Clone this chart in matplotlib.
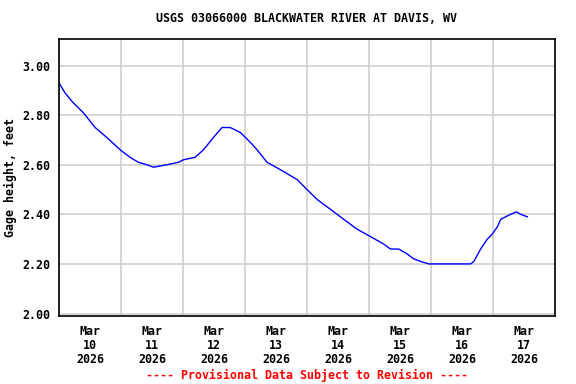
import matplotlib
matplotlib.use("Agg")
import matplotlib.pyplot as plt
import numpy as np
import pandas as pd

title = "USGS 03066000 BLACKWATER RIVER AT DAVIS, WV"
ylabel = "Gage height, feet"
footer = "---- Provisional Data Subject to Revision ----"

start = pd.Timestamp("2026-03-10 00:00")
hours = [0, 2.3, 5.5, 9.4, 14.0, 18.5, 23.7, 27.5, 30.7, 34.0, 36.6, 41.8, 46.3,
         48.2, 52.7, 55.9, 59.8, 63.1, 66.3, 70.2, 74.1, 76.7, 80.5, 85.7, 92.2,
         96.0, 99.9, 105.1, 110.2, 115.4, 120.6, 125.7, 128.3, 131.5, 134.8,
         137.4, 140.0, 143.2, 150.3, 153.5, 159.3, 160.6, 163.2, 165.8, 167.7,
         169.7, 171.0, 172.9, 174.8, 177.1, 178.7, 181.3]
gage = [2.93, 2.89, 2.85, 2.81, 2.75, 2.71, 2.66, 2.63, 2.61, 2.60, 2.59, 2.60,
        2.61, 2.62, 2.63, 2.66, 2.71, 2.75, 2.75, 2.73, 2.69, 2.66, 2.61, 2.58,
        2.54, 2.50, 2.46, 2.42, 2.38, 2.34, 2.31, 2.28, 2.26, 2.26, 2.24, 2.22,
        2.21, 2.20, 2.20, 2.20, 2.20, 2.21, 2.26, 2.30, 2.32, 2.35, 2.38, 2.39,
        2.40, 2.41, 2.40, 2.39]
yticks = [2.00, 2.20, 2.40, 2.60, 2.80, 3.00]
day_labels = ["Mar\n10\n2026", "Mar\n11\n2026", "Mar\n12\n2026", "Mar\n13\n2026",
              "Mar\n14\n2026", "Mar\n15\n2026", "Mar\n16\n2026", "Mar\n17\n2026"]

times = [start + pd.Timedelta(hours=h) for h in hours]

font = "DejaVu Sans Mono"
fs = 8.4

fig = plt.figure(figsize=(5.76, 3.84), dpi=100)
W, H = 576, 384
left, right, top, bottom = 59, 555, 39, 316
ax = fig.add_axes([left / W, 1 - bottom / H, (right - left) / W, (bottom - top) / H])

ax.plot(times, gage, color="#0000ff", lw=1.0)

ax.set_xlim(start, start + pd.Timedelta(days=8))
ax.set_ylim(1.99, 3.107)

major = [start + pd.Timedelta(days=d) for d in range(9)]
minor = [start + pd.Timedelta(days=d, hours=12) for d in range(8)]
ax.set_xticks(major)
ax.set_xticklabels([""] * len(major))
ax.set_xticks(minor, minor=True)
ax.set_xticklabels(day_labels, minor=True, fontfamily=font, fontweight="bold",
                   fontsize=fs, linespacing=1.1)
ax.set_yticks(yticks)
ax.set_yticklabels([f"{v:.2f}" for v in yticks], fontfamily=font,
                   fontweight="bold", fontsize=fs)
ax.tick_params(axis="both", which="both", length=0)
ax.tick_params(axis="x", which="minor", pad=6.5)
ax.tick_params(axis="y", pad=6)

ax.grid(True, which="major", color="#cccccc", lw=1.1)
ax.set_axisbelow(True)
for s in ax.spines.values():
    s.set_linewidth(1.2)
    s.set_color("black")

ax.set_ylabel(ylabel, fontfamily=font, fontweight="bold", fontsize=fs, labelpad=4)

fig.text(307 / W, 1 - 19 / H, title, ha="center", va="center",
         fontfamily=font, fontweight="bold", fontsize=fs)
fig.text(307 / W, 1 - 375 / H, footer, ha="center", va="center",
         fontfamily=font, fontweight="bold", fontsize=fs, color="red")

fig.savefig("out.png", dpi=100)
